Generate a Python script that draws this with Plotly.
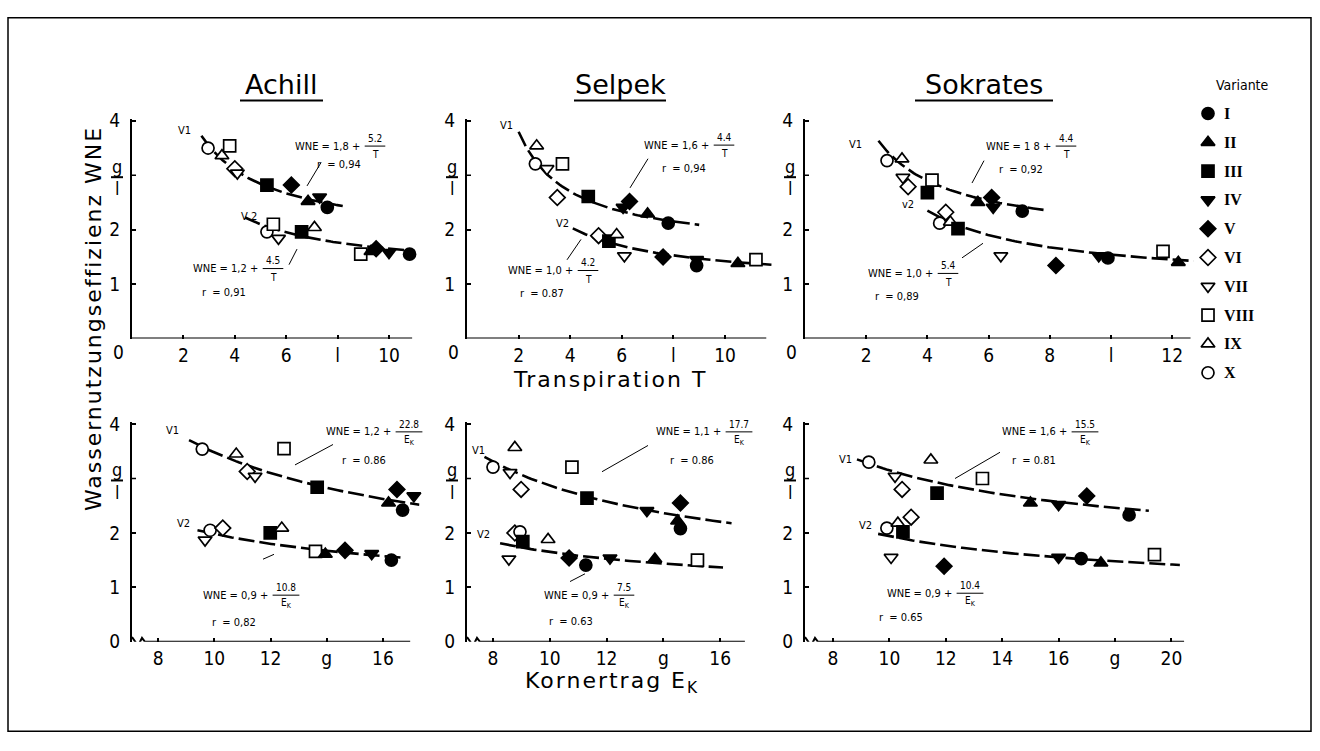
import numpy as np
import plotly.graph_objects as go

W, H = 1320, 751
SANS = "DejaVu Sans Condensed, DejaVu Sans, sans-serif"
WIDE = "DejaVu Sans, sans-serif"
SERIF = "Liberation Serif, DejaVu Serif, serif"

# ---------------- variants (legend) ----------------
VARIANTS = ["I", "II", "III", "IV", "V", "VI", "VII", "VIII", "IX", "X"]
VAR_SYMBOLS = ["circle", "triangle-up", "square", "triangle-down", "diamond",
               "diamond", "triangle-down", "square", "triangle-up", "circle"]
VAR_FILLED = [True, True, True, True, True, False, False, False, False, False]
PANEL_NAMES = ["Achill", "Selpek", "Sokrates"]

# ---------------- top row: Transpiration T ----------------
ACH_T_V1_VAR = ["X", "IX", "VIII", "VI", "VII", "III", "V", "II", "IV", "I"]
ACH_T_V1_X = [2.96, 3.5, 3.8, 4.0, 4.1, 5.25, 6.2, 6.85, 7.3, 7.6]
ACH_T_V1_Y = [3.50, 3.36, 3.54, 3.12, 3.04, 2.82, 2.82, 2.52, 2.60, 2.41]
ACH_T_V2_VAR = ["X", "VIII", "VII", "III", "IX", "VIII", "II", "V", "IV", "I"]
ACH_T_V2_X = [5.25, 5.5, 5.7, 6.6, 7.1, 8.9, 9.3, 9.5, 10.0, 10.8]
ACH_T_V2_Y = [1.96, 2.10, 1.84, 1.96, 2.04, 1.55, 1.60, 1.65, 1.58, 1.55]

SEL_T_V1_VAR = ["IX", "X", "VII", "VIII", "VI", "III", "IV", "V", "II", "I"]
SEL_T_V1_X = [2.7, 2.65, 3.1, 3.7, 3.5, 4.7, 6.05, 6.3, 7.0, 7.8]
SEL_T_V1_Y = [3.54, 3.21, 3.12, 3.21, 2.59, 2.61, 2.41, 2.52, 2.29, 2.12]
SEL_T_V2_VAR = ["VI", "III", "IX", "VII", "V", "IV", "I", "II", "VIII"]
SEL_T_V2_X = [5.1, 5.5, 5.8, 6.1, 7.6, 8.9, 8.9, 10.5, 11.2]
SEL_T_V2_Y = [1.89, 1.79, 1.91, 1.52, 1.50, 1.45, 1.34, 1.38, 1.45]

SOK_T_V1_VAR = ["X", "IX", "VII", "VI", "VIII", "III", "II", "V", "IV", "I"]
SOK_T_V1_X = [2.68, 3.17, 3.2, 3.37, 4.15, 4.0, 5.65, 6.1, 6.15, 7.1]
SOK_T_V1_Y = [3.27, 3.30, 2.96, 2.79, 2.91, 2.68, 2.50, 2.59, 2.41, 2.34]
SOK_T_V2_VAR = ["X", "VI", "IX", "III", "VII", "V", "IV", "I", "VIII", "II"]
SOK_T_V2_X = [4.4, 4.6, 4.75, 5.0, 6.4, 8.2, 9.6, 9.9, 11.7, 12.2]
SOK_T_V2_Y = [2.12, 2.32, 2.14, 2.02, 1.52, 1.34, 1.52, 1.48, 1.60, 1.40]

# ---------------- bottom row: Kornertrag E_K ----------------
ACH_E_V1_VAR = ["X", "IX", "VI", "VII", "VIII", "III", "II", "V", "I", "IV"]
ACH_E_V1_X = [9.57, 10.78, 11.17, 11.45, 12.48, 13.66, 16.2, 16.5, 16.7, 17.1]
ACH_E_V1_Y = [3.54, 3.45, 3.13, 3.04, 3.55, 2.84, 2.55, 2.80, 2.42, 2.68]
ACH_E_V2_VAR = ["VII", "X", "VI", "III", "IX", "VIII", "II", "V", "IV", "I"]
ACH_E_V2_X = [9.67, 9.85, 10.3, 11.99, 12.4, 13.6, 13.95, 14.65, 15.6, 16.3]
ACH_E_V2_Y = [1.87, 2.05, 2.09, 2.00, 2.09, 1.66, 1.61, 1.68, 1.62, 1.50]

SEL_E_V1_VAR = ["IX", "X", "VII", "VI", "VIII", "III", "IV", "V", "II", "I"]
SEL_E_V1_X = [8.77, 8.0, 8.6, 8.99, 10.78, 11.31, 13.42, 14.6, 14.5, 14.6]
SEL_E_V1_Y = [3.57, 3.21, 3.11, 2.80, 3.21, 2.64, 2.41, 2.55, 2.22, 2.08]
SEL_E_V2_VAR = ["VI", "X", "III", "VII", "IX", "V", "I", "IV", "II", "VIII"]
SEL_E_V2_X = [8.77, 8.95, 9.05, 8.56, 9.94, 10.68, 11.27, 12.12, 13.7, 15.2]
SEL_E_V2_Y = [2.00, 2.02, 1.84, 1.52, 1.88, 1.54, 1.41, 1.54, 1.52, 1.50]

SOK_E_V1_VAR = ["X", "VII", "VI", "IX", "III", "VIII", "II", "IV", "V", "I"]
SOK_E_V1_X = [9.27, 10.2, 10.45, 11.47, 11.69, 13.3, 15.0, 16.0, 17.0, 18.5]
SOK_E_V1_Y = [3.30, 3.04, 2.80, 3.34, 2.73, 3.00, 2.55, 2.52, 2.68, 2.33]
SOK_E_V2_VAR = ["X", "IX", "VI", "III", "VII", "V", "IV", "I", "II", "VIII"]
SOK_E_V2_X = [9.91, 10.3, 10.77, 10.48, 10.06, 11.94, 16.0, 16.8, 17.5, 19.4]
SOK_E_V2_Y = [2.09, 2.18, 2.29, 2.02, 1.55, 1.39, 1.55, 1.53, 1.45, 1.60]

# ---------------- regression curves WNE = a + b / x ----------------
FIT_T_V1_A = [1.8, 1.6, 1.8]
FIT_T_V1_B = [5.2, 4.4, 4.4]
FIT_T_V2_A = [1.2, 1.0, 1.0]
FIT_T_V2_B = [4.5, 4.2, 5.4]
FIT_E_V1_A = [1.2, 1.1, 1.6]
FIT_E_V1_B = [22.8, 17.7, 15.5]
FIT_E_V2_A = [0.9, 0.9, 0.9]
FIT_E_V2_B = [10.8, 7.5, 10.4]
CURVE_T_V1 = [(2.7, 8.2), (2.0, 9.0), (2.4, 7.8)]
CURVE_T_V2 = [(4.4, 11.0), (4.1, 11.8), (4.0, 12.7)]
CURVE_E_V1 = [(9.1, 17.3), (7.7, 16.4), (8.85, 19.2)]
CURVE_E_V2 = [(9.4, 16.8), (8.25, 16.1), (9.6, 20.3)]

# equation labels
EQ_T_V1_LEAD = ["WNE = 1,8 +", "WNE = 1,6 +", "WNE = 1 8 +"]
EQ_T_V1_NUM = ["5.2", "4.4", "4.4"]
EQ_T_V2_LEAD = ["WNE = 1,2 +", "WNE = 1,0 +", "WNE = 1,0 +"]
EQ_T_V2_NUM = ["4.5", "4.2", "5.4"]
EQ_E_V1_LEAD = ["WNE = 1,2 +", "WNE = 1,1 +", "WNE = 1,6 +"]
EQ_E_V1_NUM = ["22.8", "17.7", "15.5"]
EQ_E_V2_LEAD = ["WNE = 0,9 +", "WNE = 0,9 +", "WNE = 0,9 +"]
EQ_E_V2_NUM = ["10.8", "7.5", "10.4"]
R_T_V1 = ["r  = 0,94", "r  = 0,94", "r  = 0,92"]
R_T_V2 = ["r  = 0,91", "r  = 0.87", "r  = 0,89"]
R_E_V1 = ["r  = 0.86", "r  = 0.86", "r  = 0.81"]
R_E_V2 = ["r  = 0,82", "r  = 0.63", "r  = 0.65"]

# ticks
TOP_XTICKS = [[2, 4, 6, 8, 10], [2, 4, 6, 8, 10], [2, 4, 6, 8, 10, 12]]
TOP_XTEXT = [["2", "4", "6", "l", "10"], ["2", "4", "6", "l", "10"],
             ["2", "4", "6", "8", "l", "12"]]
BOT_XTICKS = [[8, 10, 12, 14, 16], [8, 10, 12, 14, 16], [8, 10, 12, 14, 16, 18, 20]]
BOT_XTEXT = [["8", "10", "12", "g", "16"], ["8", "10", "12", "g", "16"],
             ["8", "10", "12", "14", "16", "g", "20"]]
TOP_YTICKS = [1, 2, 4]
TOP_YTEXT = ["1", "2", "4"]
BOT_YTICKS = [0, 1, 2, 4]
BOT_YTEXT = ["0", "1", "2", "4"]
UNIT_TICK = 3  # position of the g/l unit label

# ---------------- geometry (pixels) ----------------
PX0 = [132, 467, 805]
TOP_K = [25.7, 25.8, 30.6]
TOP_RANGE = [(0, 11.0), (0, 12.0), (0, 12.9)]
TOP_AXIS_END = [10.9, 11.6, 12.6]
BOT_K = [28.1, 28.4, 28.2]
BOT_RANGE = [(7.07, 17.3), (7.085, 16.9), (7.007, 20.6)]
BOT_AXIS_END = [16.97, 16.87, 20.45]
YMAX = 4.03
YK = 56.0
ROW_BASE = [338, 650]


def xp(px):
    return px / W


def yp(py):
    return 1 - py / H


sym_of = dict(zip(VARIANTS, VAR_SYMBOLS))
fill_of = dict(zip(VARIANTS, VAR_FILLED))

fig = go.Figure()
shapes = []
annotations = []


def ax_names(n):
    return ("x" if n == 1 else f"x{n}"), ("y" if n == 1 else f"y{n}")


def add_curve(a, b, span, n):
    xa, ya = ax_names(n)
    t = np.linspace(span[0], span[1], 80)
    fig.add_trace(go.Scatter(x=t, y=a + b / t, xaxis=xa, yaxis=ya, mode="lines",
                             line=dict(color="black", width=2.6, dash="16px,5px"),
                             showlegend=False, hoverinfo="skip", cliponaxis=False))


def add_points(xs, ys, vars_, n):
    xa, ya = ax_names(n)
    fig.add_trace(go.Scatter(
        x=xs, y=ys, xaxis=xa, yaxis=ya, mode="markers",
        marker=dict(symbol=[sym_of[v] for v in vars_], size=12,
                    color=["black" if fill_of[v] else "white" for v in vars_],
                    line=dict(color="black", width=1.7)),
        showlegend=False, hoverinfo="skip", cliponaxis=False))


def text(px, py, s, size=11, anchor="center", family=SANS, angle=0):
    annotations.append(dict(x=xp(px), y=yp(py), xref="paper", yref="paper", text=s,
                            showarrow=False, xanchor=anchor, yanchor="middle",
                            textangle=angle,
                            font=dict(family=family, size=size, color="black")))


def pline(x0, y0, x1, y1, w=1.0):
    shapes.append(dict(type="line", xref="paper", yref="paper", x0=xp(x0), y0=yp(y0),
                       x1=xp(x1), y1=yp(y1), line=dict(color="black", width=w)))


def formula(lead, num, den, xfrac, yc, rtext, rx, ry):
    fw = max(len(num), 2) * 6.2 + 2
    text(xfrac - fw / 2 - 3, yc, lead, 11, "right")
    text(xfrac, yc - 8, num, 10)
    pline(xfrac - fw / 2, yc, xfrac + fw / 2, yc, 1)
    text(xfrac, yc + 9, den, 10)
    text(rx, ry, rtext, 11, "left")


top_sets = [
    (ACH_T_V1_X, ACH_T_V1_Y, ACH_T_V1_VAR, ACH_T_V2_X, ACH_T_V2_Y, ACH_T_V2_VAR),
    (SEL_T_V1_X, SEL_T_V1_Y, SEL_T_V1_VAR, SEL_T_V2_X, SEL_T_V2_Y, SEL_T_V2_VAR),
    (SOK_T_V1_X, SOK_T_V1_Y, SOK_T_V1_VAR, SOK_T_V2_X, SOK_T_V2_Y, SOK_T_V2_VAR),
]
bot_sets = [
    (ACH_E_V1_X, ACH_E_V1_Y, ACH_E_V1_VAR, ACH_E_V2_X, ACH_E_V2_Y, ACH_E_V2_VAR),
    (SEL_E_V1_X, SEL_E_V1_Y, SEL_E_V1_VAR, SEL_E_V2_X, SEL_E_V2_Y, SEL_E_V2_VAR),
    (SOK_E_V1_X, SOK_E_V1_Y, SOK_E_V1_VAR, SOK_E_V2_X, SOK_E_V2_Y, SOK_E_V2_VAR),
]

layout_axes = {}
for row in range(2):
    for i in range(3):
        n = i + 1 + 3 * row
        xa, ya = ax_names(n)
        if row == 0:
            k, rng, tv, tt, aend = TOP_K[i], TOP_RANGE[i], TOP_XTICKS[i], TOP_XTEXT[i], TOP_AXIS_END[i]
            ytv, ytt = TOP_YTICKS, TOP_YTEXT
            sets = top_sets[i]
            add_curve(FIT_T_V1_A[i], FIT_T_V1_B[i], CURVE_T_V1[i], n)
            add_curve(FIT_T_V2_A[i], FIT_T_V2_B[i], CURVE_T_V2[i], n)
        else:
            k, rng, tv, tt, aend = BOT_K[i], BOT_RANGE[i], BOT_XTICKS[i], BOT_XTEXT[i], BOT_AXIS_END[i]
            ytv, ytt = BOT_YTICKS, BOT_YTEXT
            sets = bot_sets[i]
            add_curve(FIT_E_V1_A[i], FIT_E_V1_B[i], CURVE_E_V1[i], n)
            add_curve(FIT_E_V2_A[i], FIT_E_V2_B[i], CURVE_E_V2[i], n)
        add_points(sets[0], sets[1], sets[2], n)
        add_points(sets[3], sets[4], sets[5], n)
        base = ROW_BASE[row]
        layout_axes["xaxis" if n == 1 else f"xaxis{n}"] = dict(
            domain=[xp(PX0[i]), xp(PX0[i] + (rng[1] - rng[0]) * k)], range=list(rng),
            anchor=ya, showline=False, showgrid=False, zeroline=False,
            ticks="inside", ticklen=4, tickwidth=1.5, tickcolor="black",
            tickvals=tv, ticktext=tt, ticklabelstandoff=3,
            tickfont=dict(family=SANS, size=19, color="black"))
        layout_axes["yaxis" if n == 1 else f"yaxis{n}"] = dict(
            domain=[yp(base), yp(base - YMAX * YK)], range=[0, YMAX],
            anchor=xa, showline=True, linecolor="black", linewidth=2,
            showgrid=False, zeroline=False, ticks="inside", ticklen=4, tickwidth=1.5,
            tickcolor="black", tickvals=ytv, ticktext=ytt, ticklabelstandoff=6,
            tickfont=dict(family=SANS, size=19, color="black"))
        shapes.append(dict(type="line", xref=xa, yref=ya, x0=rng[0], y0=UNIT_TICK,
                           x1=rng[0] + 4 / k, y1=UNIT_TICK, line=dict(color="black", width=1.5)))
        if row == 0:
            shapes.append(dict(type="line", xref=xa, yref=ya, x0=rng[0], y0=0, x1=aend, y1=0,
                               line=dict(color="black", width=2)))
            text(PX0[i] - 14, base + 14, "0", 19)
        else:
            x0 = rng[0]
            d = lambda px: px / k
            v = lambda py: py / YK
            path = (f"M {x0},{v(5)} L {x0 + d(6)},{v(-4)} L {x0 + d(10)},{v(4)} "
                    f"L {x0 + d(13)},0 L {aend},0")
            shapes.append(dict(type="path", xref=xa, yref=ya, path=path,
                               line=dict(color="black", width=2)))
        y3 = base - UNIT_TICK * YK
        text(PX0[i] - 15, y3 - 9, "g", 18)
        pline(PX0[i] - 21, y3 + 2, PX0[i] - 9, y3 + 2, 2)
        text(PX0[i] - 15, y3 + 14, "l", 18)

# ---------------- equations ----------------
EQ_T_V1_POS = [(375, 140, 315, 159), (724, 139, 660, 163), (1066, 140, 997, 164)]
EQ_T_V2_POS = [(273, 266, 200, 291), (588, 268, 518, 292), (948, 271, 873, 295)]
EQ_E_V1_POS = [(409, 434, 340, 463), (739, 434, 668, 463), (1085, 434, 1010, 463)]
EQ_E_V2_POS = [(286, 602, 210, 630), (624, 602, 547, 629), (970, 600, 877, 625)]
for i in range(3):
    p = EQ_T_V1_POS[i]
    formula(EQ_T_V1_LEAD[i], EQ_T_V1_NUM[i], "T", p[0], p[1], R_T_V1[i], p[2], p[3])
    p = EQ_T_V2_POS[i]
    formula(EQ_T_V2_LEAD[i], EQ_T_V2_NUM[i], "T", p[0], p[1], R_T_V2[i], p[2], p[3])
    p = EQ_E_V1_POS[i]
    formula(EQ_E_V1_LEAD[i], EQ_E_V1_NUM[i], "E<sub>K</sub>", p[0], p[1], R_E_V1[i], p[2], p[3])
    p = EQ_E_V2_POS[i]
    formula(EQ_E_V2_LEAD[i], EQ_E_V2_NUM[i], "E<sub>K</sub>", p[0], p[1], R_E_V2[i], p[2], p[3])

# leader lines
for seg in [(307, 181, 321, 157), (289, 262, 297, 246), (630, 183, 648, 153), (567, 257, 581, 236),
            (972, 178, 984, 155), (962, 255, 983, 240), (295, 468, 333, 447), (263, 565, 274, 560),
            (602, 475, 648, 448), (570, 588, 585, 580), (955, 482, 1000, 455)]:
    pline(*seg, w=1)

# V1 / V2 labels
for (px, py, s) in [(184, 124, "V1"), (249, 212, "V 2"), (506, 119, "V1"), (562, 220, "V2"),
                    (855, 138, "V1"), (908, 200, "v2"), (172, 433, "V1"), (183, 528, "V2"),
                    (478, 453, "V1"), (484, 540, "V2"), (845, 462, "V1"), (866, 530, "V2")]:
    text(px, py, s, 11)

# panel titles (underlined)
for (cx, x0, x1, name) in [(281, 243, 320, PANEL_NAMES[0]), (620, 577, 663, PANEL_NAMES[1]),
                           (984, 918, 1050, PANEL_NAMES[2])]:
    text(cx, 77, name, 27, family=WIDE)
    pline(x0 - 3, 93, x1 + 3, 93, 2)

# axis titles
SP = '<span style="letter-spacing:2px">'
text(610, 380, SP + "Transpiration T</span>", 22, family=WIDE)
text(612, 692, SP + "Kornertrag E<sub>K</sub></span>", 22, family=WIDE)
text(93, 318, SP + "Wassernutzungseffizienz WNE</span>", 22, family=WIDE, angle=-90)

# ---------------- legend ----------------
rows = list(range(len(VARIANTS)))
fig.add_trace(go.Scatter(
    x=[0.12] * len(VARIANTS), y=rows, xaxis="x7", yaxis="y7", mode="markers",
    marker=dict(symbol=VAR_SYMBOLS, size=12,
                color=["black" if f else "white" for f in VAR_FILLED],
                line=dict(color="black", width=1.7)),
    showlegend=False, hoverinfo="skip", cliponaxis=False))
for r, v in zip(rows, VARIANTS):
    annotations.append(dict(x=0.26, y=r, xref="x7", yref="y7", text="<b>" + v + "</b>",
                            showarrow=False, xanchor="left", yanchor="middle",
                            font=dict(family=SERIF, size=16, color="black")))
annotations.append(dict(x=0.18, y=-1, xref="x7", yref="y7", text="Variante",
                        showarrow=False, xanchor="left", yanchor="middle",
                        font=dict(family=SANS, size=14, color="black")))
layout_axes["xaxis7"] = dict(domain=[xp(1196), xp(1296)], range=[0, 1], visible=False,
                             anchor="y7")
layout_axes["yaxis7"] = dict(domain=[yp(388), yp(62)], range=[9.5, -1.5], visible=False,
                             anchor="x7")

# frame
shapes.append(dict(type="rect", xref="paper", yref="paper", x0=xp(8), y0=yp(742),
                   x1=xp(1311), y1=yp(8), line=dict(color="black", width=1.5)))

fig.update_layout(width=W, height=H, margin=dict(l=0, r=0, t=0, b=0),
                  paper_bgcolor="white", plot_bgcolor="rgba(0,0,0,0)",
                  shapes=shapes, annotations=annotations, showlegend=False,
                  **layout_axes)
fig.write_html("out.html")
